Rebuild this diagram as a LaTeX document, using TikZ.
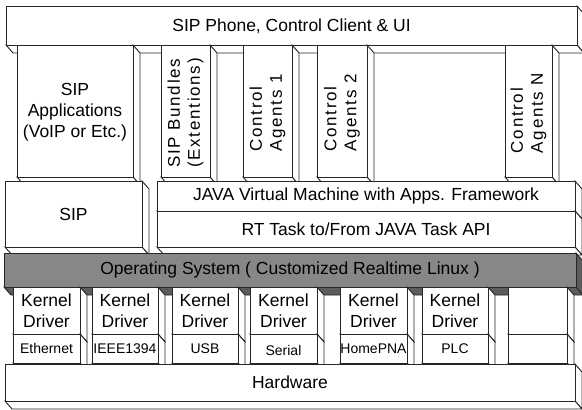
\documentclass[tikz,border=0pt]{standalone}
\usepackage{fontspec}
\setmainfont{Liberation Sans}
\newfontfamily\spacedsans[LetterSpace=10]{Liberation Sans}
% one slab: front face, right face and bottom face
% #1,#2 = top left, #3,#4 = bottom right, #5 = front fill, #6 = side fill
\newcommand{\slab}[6]{%
  \filldraw[fill=#6] (#3,#2) -- (#3+7,#2+8) -- (#3+7,#4+8) -- (#3,#4) -- cycle;
  \filldraw[fill=#6] (#1,#4) -- (#3,#4) -- (#3+7,#4+8) -- (#1+7,#4+8) -- cycle;
  \filldraw[fill=#5] (#1,#2) rectangle (#3,#4);
}

\begin{document}
\begin{tikzpicture}[x=1pt,y=-1pt,line width=0.9pt,draw=black!85,
    every node/.style={font=\fontsize{17.5}{21}\selectfont, align=center, inner sep=0pt},
    upright/.style={rotate=90, align=left, font=\spacedsans\fontsize{17}{20}\selectfont},
    iface/.style={font=\fontsize{14}{16}\selectfont}]

      \useasboundingbox[fill=white] (0,0) rectangle (582,410);

      % top layer
      \slab{6}{6}{577}{45}{white}{white}
      \node (phone) at (291.5,26) {SIP Phone, Control Client \& UI};

      % columns under the top layer
      \slab{17}{45}{133}{177}{white}{white}
      \node (sipapp) at (75,112) {SIP\\Applications\\(VoIP or Etc.)};

      \slab{161}{45}{210}{177}{white}{white}
      \node[upright] (bundles) at (185.5,113) {SIP Bundles\\(Extentions)};

      \slab{243}{45}{292}{177}{white}{white}
      \node[upright] (agent1) at (267.5,113) {Control\\Agents 1};

      \slab{317}{45}{367}{177}{white}{white}
      \node[upright] (agent2) at (342,113) {Control\\Agents 2};

      \slab{505}{45}{552}{177}{white}{white}
      \node[upright] (agentn) at (528.5,113) {Control\\Agents N};

      % SIP stack and java layers
      \slab{5}{181}{142}{247}{white}{white}
      \node (sip) at (73.5,214) {SIP};

      \slab{157}{181}{575}{211}{white}{white}
      \node (jvm) at (366,196) {JAVA Virtual Machine with Apps. Framework};

      \slab{157}{211}{575}{247}{white}{white}
      \node (rttask) at (366,229) {RT Task to/From JAVA Task API};

      % operating system
      \slab{4}{253}{576}{287}{black!47}{black!64}
      \node (os) at (290,270) {Operating System ( Customized Realtime Linux )};

      % kernel drivers
      \slab{13}{287}{80}{334}{white}{white}
      \slab{13}{334}{80}{363}{white}{white}
      \node (kd1) at (46.5,310.5) {Kernel\\Driver};
      \node[iface] (if1) at (46.5,348.5) {Ethernet};

      \slab{92}{287}{158}{334}{white}{white}
      \slab{92}{334}{158}{363}{white}{white}
      \node (kd2) at (125,310.5) {Kernel\\Driver};
      \node[iface] (if2) at (125,348.5) {IEEE1394};

      \slab{172}{287}{238}{334}{white}{white}
      \slab{172}{334}{238}{363}{white}{white}
      \node (kd3) at (205,310.5) {Kernel\\Driver};
      \node[iface] (if3) at (205,348.5) {USB};

      \slab{250}{287}{317}{334}{white}{white}
      \slab{250}{334}{317}{363}{white}{white}
      \node (kd4) at (283.5,310.5) {Kernel\\Driver};
      \node[iface] (if4) at (283.5,350) {Serial};

      \slab{340}{287}{407}{334}{white}{white}
      \slab{340}{334}{407}{363}{white}{white}
      \node (kd5) at (373.5,310.5) {Kernel\\Driver};
      \node[iface] (if5) at (373.5,348.5) {HomePNA};

      \slab{422}{287}{488}{334}{white}{white}
      \slab{422}{334}{488}{363}{white}{white}
      \node (kd6) at (455,310.5) {Kernel\\Driver};
      \node[iface] (if6) at (455,348.5) {PLC};

      \slab{508}{287}{567}{334}{white}{white}
      \slab{508}{334}{567}{363}{white}{white}

      % hardware
      \slab{5}{364}{575}{401}{white}{white}
      \node (hw) at (290,382.5) {Hardware};

    \end{tikzpicture}
\end{document}
